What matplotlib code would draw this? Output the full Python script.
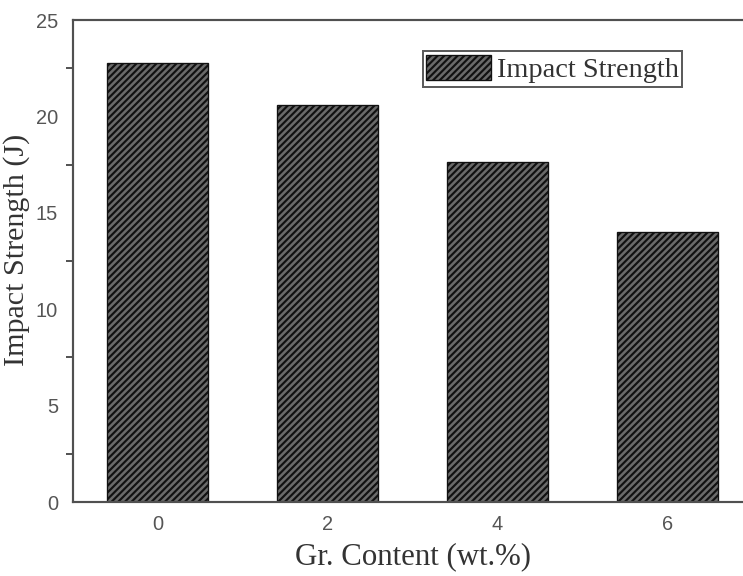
import matplotlib
matplotlib.use("Agg")
import matplotlib.pyplot as plt
from matplotlib.ticker import MultipleLocator

# Data
gr_content = [0, 2, 4, 6]
impact_strength = [22.75, 20.6, 17.65, 14.0]
x_tick_labels = ["0", "2", "4", "6"]
y_ticks = [0, 5, 10, 15, 20, 25]

DPI = 120
W, H = 743, 576
plt.rcParams['hatch.linewidth'] = 1.3

fig = plt.figure(figsize=(W / DPI, H / DPI), dpi=DPI)
# axes in pixel coords: left 73, right ~752, bottom 502, top 20
ax = fig.add_axes([73 / W, (H - 502) / H, (752 - 73) / W, (502 - 20) / H])

bars = ax.bar(gr_content, impact_strength, width=1.19, facecolor='#6a6a6a',
              edgecolor='#111111', hatch='//////', linewidth=0.8,
              label='Impact Strength', zorder=2)

ax.set_xlim(-1, 7)
ax.set_ylim(0, 25)
ax.set_xticks(gr_content)
ax.set_xticklabels(x_tick_labels)
ax.set_yticks(y_ticks)
ax.yaxis.set_minor_locator(MultipleLocator(2.5))

ax.tick_params(axis='x', length=0, pad=8, labelsize=12, labelcolor='#555555')
ax.tick_params(axis='y', which='major', length=0, pad=9, labelsize=12,
               labelcolor='#555555')
ax.tick_params(axis='y', which='minor', length=4, width=1.2, color='#555555',
               direction='out')
for lab in ax.get_xticklabels() + ax.get_yticklabels():
    lab.set_family('Liberation Sans')

for side in ['left', 'bottom', 'top']:
    ax.spines[side].set_color('#505050')
    ax.spines[side].set_linewidth(1.3)
ax.spines['right'].set_visible(False)

ax.set_xlabel('Gr. Content (wt.%)', family='Liberation Serif', fontsize=18.5,
              color='#333333', labelpad=5)

fig.text(17 / W, 1 - 250 / H, 'Impact Strength (J)', rotation=90,
         family='Liberation Serif', fontsize=18, color='#333333',
         ha='center', va='center')

leg = ax.legend(loc='upper left', bbox_to_anchor=(0.515, 0.935),
                borderaxespad=0, frameon=True, fancybox=False,
                prop={'family': 'Liberation Serif', 'size': 17},
                handlelength=2.3, handleheight=1.0, handletextpad=0.2,
                borderpad=0.12)
leg.get_frame().set_edgecolor('#333333')
leg.get_frame().set_linewidth(1.2)
for t in leg.get_texts():
    t.set_color('#333333')

fig.savefig('out.png', dpi=DPI)
